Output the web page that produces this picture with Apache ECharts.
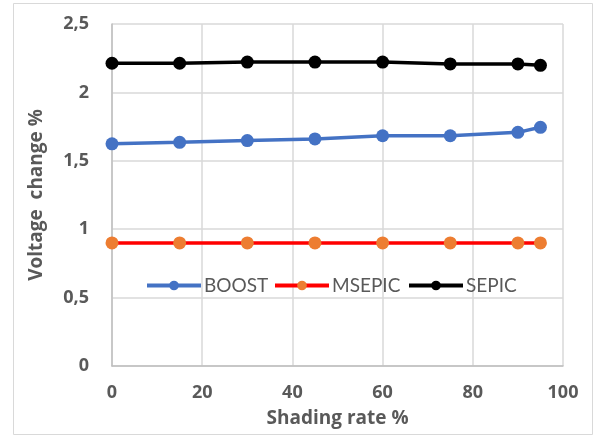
<!DOCTYPE html>
<html>
<head>
<meta charset="utf-8">
<script src="https://cdn.jsdelivr.net/npm/echarts@6/dist/echarts.min.js"></script>
<style>
  html, body { margin: 0; padding: 0; background: #fff; }
  #chart { width: 598px; height: 437px; }
</style>
</head>
<body>
<div id="chart"></div>
<script>
// Shading rate (%) on the x axis
const shading = [0, 15, 30, 45, 60, 75, 90, 95];
// Voltage change (%) per converter
const boost  = [1.624, 1.635, 1.648, 1.66, 1.683, 1.683, 1.708, 1.745];
const msepic = [0.9, 0.9, 0.9, 0.9, 0.9, 0.9, 0.9, 0.9];
const sepic  = [2.213, 2.213, 2.222, 2.222, 2.222, 2.208, 2.208, 2.198];

const BOLD_FONT = 'Open Sans';
const LEGEND_FONT = 'Lato';
const GREY = '#595959';

const pairs = (ys) => shading.map((x, i) => [x, ys[i]]);

function lineSeries(name, ys, lineColor, dotColor) {
  return {
    name,
    type: 'line',
    data: pairs(ys),
    symbol: 'circle',
    symbolSize: 13,
    lineStyle: { color: lineColor, width: 3.5 },
    itemStyle: { color: dotColor },
    emphasis: { disabled: true },
    z: 3
  };
}

function legendAt(name, left) {
  return {
    data: [name],
    left,
    top: 271,
    itemWidth: 54,
    itemHeight: 12,
    itemGap: 0,
    lineStyle: { width: 4 },
    textStyle: { fontFamily: LEGEND_FONT, fontSize: 19, color: GREY, padding: [0, 0, 0, -2] },
    selectedMode: false
  };
}

const chart = echarts.init(document.getElementById('chart'));
chart.setOption({
  animation: false,
  backgroundColor: '#fff',
  graphic: [{
    type: 'rect',
    shape: { x: 13.5, y: 3.5, width: 579, height: 431 },
    style: { fill: 'none', stroke: '#d9d9d9', lineWidth: 1 },
    z: -1
  }],
  grid: { left: 112, right: 35, top: 24, bottom: 71 },
  legend: [
    legendAt('BOOST', 140),
    legendAt('MSEPIC', 268),
    legendAt('SEPIC', 402)
  ],
  xAxis: {
    type: 'value',
    min: 0, max: 100, interval: 20,
    name: 'Shading rate %',
    nameLocation: 'middle',
    nameGap: 43,
    nameTextStyle: { fontFamily: BOLD_FONT, fontSize: 19, fontWeight: 'bold', color: GREY },
    axisLine: { show: true, lineStyle: { color: '#bfbfbf', width: 1.5 } },
    axisTick: { show: false },
    axisLabel: { fontFamily: BOLD_FONT, fontSize: 18, fontWeight: 'bold', color: GREY, margin: 18 },
    splitLine: { show: true, lineStyle: { color: '#d9d9d9', width: 1.5 } }
  },
  yAxis: {
    type: 'value',
    min: 0, max: 2.5, interval: 0.5,
    name: 'Voltage  change %',
    nameLocation: 'middle',
    nameGap: 66,
    nameTextStyle: { fontFamily: BOLD_FONT, fontSize: 19, fontWeight: 'bold', color: GREY },
    axisLine: { show: true, lineStyle: { color: '#bfbfbf', width: 1.5 } },
    axisTick: { show: false },
    axisLabel: {
      fontFamily: BOLD_FONT, fontSize: 18, fontWeight: 'bold', color: GREY, margin: 23,
      formatter: (v) => String(v).replace('.', ',')
    },
    splitLine: { show: true, lineStyle: { color: '#d9d9d9', width: 1.5 } }
  },
  series: [
    lineSeries('BOOST', boost, '#4472c4', '#4472c4'),
    lineSeries('MSEPIC', msepic, '#ff0000', '#ed7d31'),
    lineSeries('SEPIC', sepic, '#000000', '#000000')
  ]
});
</script>
</body>
</html>
